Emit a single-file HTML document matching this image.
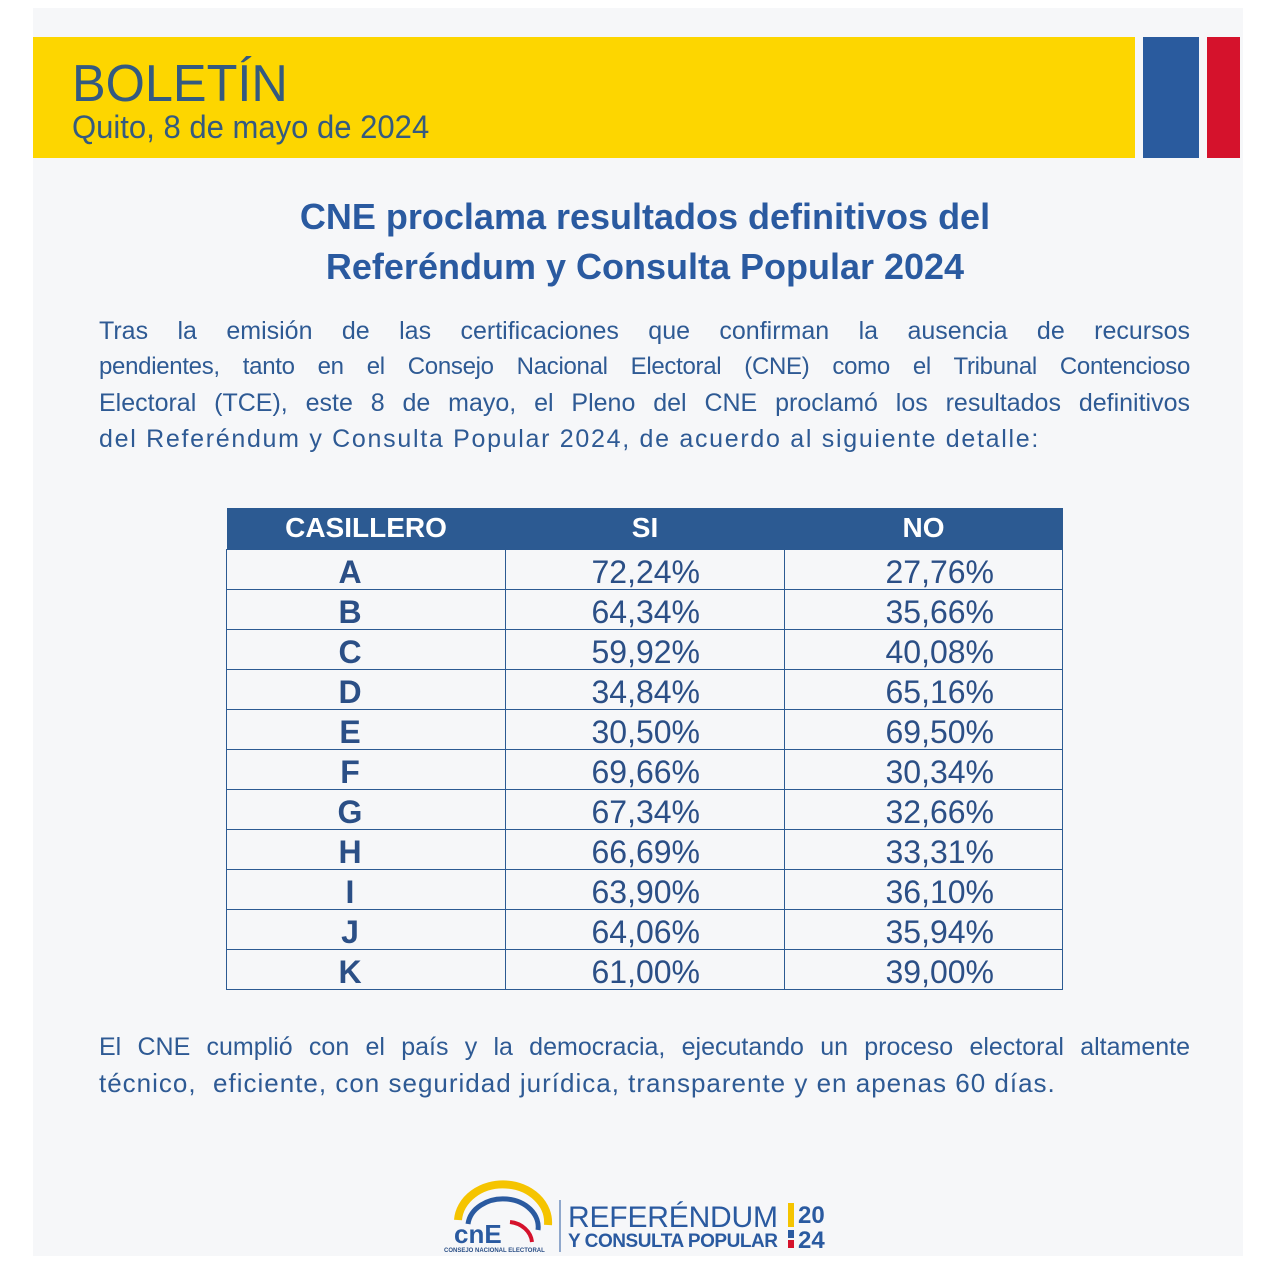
<!DOCTYPE html>
<html><head><meta charset="utf-8"><style>
*{margin:0;padding:0;box-sizing:border-box}
body{width:1280px;height:1280px;background:#fff;position:relative;overflow:hidden;font-family:"Liberation Sans",sans-serif;color:#2b4f86}
.bg{position:absolute;left:33px;top:8px;width:1210px;height:1248px;background:#f6f7f9}
.yel{position:absolute;left:33px;top:37px;width:1102px;height:121px;background:#fdd600}
.blue{position:absolute;left:1143px;top:37px;width:56px;height:121px;background:#2a5b9e}
.red{position:absolute;left:1207px;top:37px;width:33px;height:121px;background:#d5122c}
.bol{position:absolute;left:72px;top:54px;font-size:52px;color:#345a80;transform:scaleX(0.97);transform-origin:left}
.qui{position:absolute;left:72px;top:109px;font-size:32px;color:#345a80;transform:scaleX(0.97);transform-origin:left}
.title{position:absolute;left:0;width:1280px;text-align:center;font-weight:bold;font-size:36px;color:#2a5aa0}
.p{position:absolute;left:99px;width:1091px;font-size:25px;line-height:36px;text-align:justify;text-align-last:justify;color:#2e5a94;white-space:nowrap}
.l{text-align-last:left}
table{position:absolute;left:226px;top:508px;width:837px;border-collapse:collapse}
th{background:#2c5a92;color:#fff;font-size:28px;height:41px;font-weight:bold}
td{border:1.5px solid #2c5a92;height:40px;font-size:32px;line-height:34px;vertical-align:bottom;color:#2b4f86}
td:first-child{text-align:center;font-weight:bold;width:279px;padding-right:32px}
td:nth-child(2){text-align:right;padding-right:84px;width:279px}
td:nth-child(3){text-align:right;padding-right:68px}
</style></head><body>
<div class="bg"></div>
<div class="yel"></div><div class="blue"></div><div class="red"></div>
<div class="bol">BOLETÍN</div>
<div class="qui">Quito, 8 de mayo de 2024</div>
<div class="title" style="top:196px;left:5px">CNE proclama resultados definitivos del</div>
<div class="title" style="top:246px;left:5px">Referéndum y Consulta Popular 2024</div>
<div class="p" style="top:313px">Tras la emisión de las certificaciones que confirman la ausencia de recursos</div>
<div class="p" style="top:349px;font-size:24px;letter-spacing:-0.3px">pendientes, tanto en el Consejo Nacional Electoral (CNE) como el Tribunal Contencioso</div>
<div class="p" style="top:385px">Electoral (TCE), este 8 de mayo, el Pleno del CNE proclamó los resultados definitivos</div>
<div class="p l" style="top:421px;letter-spacing:1.7px">del Referéndum y Consulta Popular 2024, de acuerdo al siguiente detalle:</div>
<table>
<tr><th>CASILLERO</th><th>SI</th><th>NO</th></tr>
<tr><td>A</td><td>72,24%</td><td>27,76%</td></tr>
<tr><td>B</td><td>64,34%</td><td>35,66%</td></tr>
<tr><td>C</td><td>59,92%</td><td>40,08%</td></tr>
<tr><td>D</td><td>34,84%</td><td>65,16%</td></tr>
<tr><td>E</td><td>30,50%</td><td>69,50%</td></tr>
<tr><td>F</td><td>69,66%</td><td>30,34%</td></tr>
<tr><td>G</td><td>67,34%</td><td>32,66%</td></tr>
<tr><td>H</td><td>66,69%</td><td>33,31%</td></tr>
<tr><td>I</td><td>63,90%</td><td>36,10%</td></tr>
<tr><td>J</td><td>64,06%</td><td>35,94%</td></tr>
<tr><td>K</td><td>61,00%</td><td>39,00%</td></tr>
</table>
<div class="p" style="top:1029px">El CNE cumplió con el país y la democracia, ejecutando un proceso electoral altamente</div>
<div class="p l" style="top:1065px;font-size:26px;letter-spacing:1px">técnico,&nbsp; eficiente, con seguridad jurídica, transparente y en apenas 60 días.</div>
<svg style="position:absolute;left:440px;top:1180px" width="420" height="80">
<path d="M18 40 A45 38 0 0 1 108 45" fill="none" stroke="#f5c400" stroke-width="8"/>
<path d="M28 44 A35 28 0 0 1 98 50" fill="none" stroke="#2a5aa0" stroke-width="5"/>
<path d="M70 42 A25 22 0 0 1 92 62" fill="none" stroke="#d5122c" stroke-width="4"/>
<text x="14" y="63" font-family="Liberation Sans" font-weight="bold" font-size="26" fill="#2a5aa0">cnE</text>
<text x="4" y="72" font-family="Liberation Sans" font-weight="bold" font-size="6" fill="#2b4f86">CONSEJO NACIONAL ELECTORAL</text>
<line x1="120" y1="20" x2="120" y2="72" stroke="#2a5aa0" stroke-width="1"/>
<text x="128" y="47" font-family="Liberation Sans" font-size="30" fill="#2a5aa0" textLength="210">REFERÉNDUM</text>
<text x="128" y="67" font-family="Liberation Sans" font-weight="bold" font-size="19" fill="#2a5aa0" textLength="210">Y CONSULTA POPULAR</text>
<rect x="348" y="23" width="6" height="24" fill="#f5c400"/><rect x="348" y="50" width="6" height="8" fill="#2a5aa0"/><rect x="348" y="60" width="6" height="8" fill="#d5122c"/>
<text x="358" y="43" font-family="Liberation Sans" font-weight="bold" font-size="24" fill="#2a5aa0">20</text>
<text x="358" y="68" font-family="Liberation Sans" font-weight="bold" font-size="24" fill="#2a5aa0">24</text>
</svg>
</body></html>
